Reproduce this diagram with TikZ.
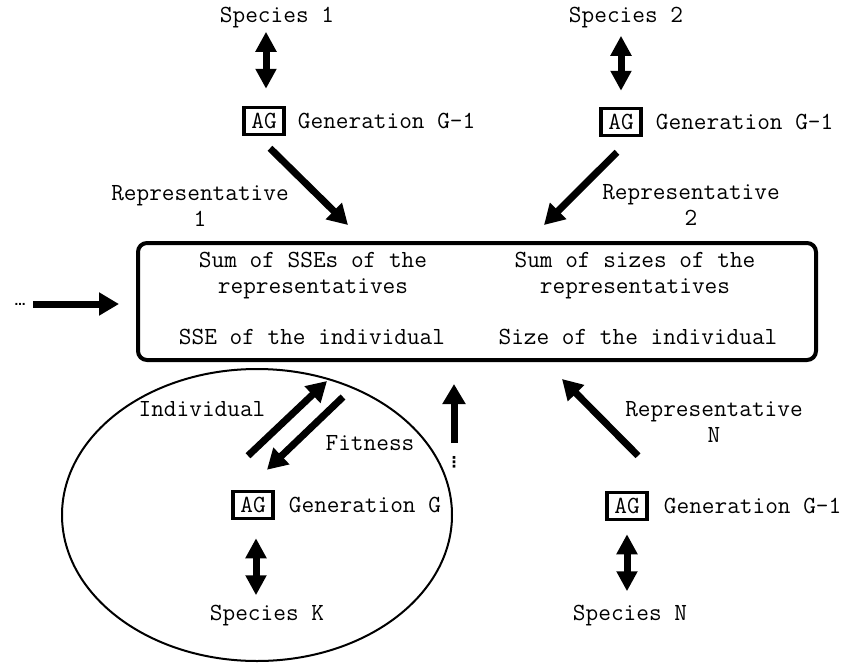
\documentclass[tikz,border=0pt]{standalone}
\usepackage{fontspec}
\newfontfamily\dotsfont{DejaVu Sans}
\usetikzlibrary{arrows.meta,positioning}

\begin{document}
\begin{tikzpicture}[x=1pt,y=-1pt,
        every node/.style={font=\ttfamily\fontsize{24.6}{26}\selectfont,inner sep=0pt},
        agbox/.style={draw,line width=3.5pt,minimum width=40pt,minimum height=27pt},
        arr/.style={line width=7pt,-{Triangle[width=22pt,length=20pt]}},
        dbl/.style={line width=7pt,{Triangle[width=20pt,length=20pt]}-{Triangle[width=20pt,length=20pt]}},
        lbl/.style={align=center},
        dotsmark/.style={font=\dotsfont\bfseries\fontsize{11}{11}\selectfont}]
                \useasboundingbox (0,0) rectangle (847,665);

                \node[draw,line width=4pt,rounded corners=9pt,minimum width=678pt,minimum height=117pt] (sum) at (477,301.5) {};
                \node[lbl] (ssesum) at (313,276) {Sum of SSEs of the\\representatives};
                \node[lbl] (sizesum) at (635,276) {Sum of sizes of the\\representatives};
                \node (sseind) at (312,337) {SSE of the individual};
                \node (sizeind) at (638,337) {Size of the individual};

                \draw[line width=2pt] (257,515) ellipse [x radius=195pt,y radius=146pt];

                \node (sp1) at (277,18) {Species 1};
                \node[agbox] (ag1) at (264,121) {AG};
                \node[right=12pt of ag1] (gen1) {Generation G-1};
                \node[lbl] (rep1) at (200,206) {Representative\\1};
                \draw[dbl] ([xshift=2pt,yshift=17pt]ag1.north) -- ([xshift=2pt,yshift=74pt]ag1.north);

                \node (sp2) at (626,18) {Species 2};
                \node[agbox] (ag2) at (621,122) {AG};
                \node[right=13pt of ag2] (gen2) {Generation G-1};
                \node[lbl] (rep2) at (691,205) {Representative\\2};
                \draw[dbl] ([yshift=16pt]ag2.north) -- ([yshift=71pt]ag2.north);

                \node[agbox] (agK) at (253,505) {AG};
                \node[right=14pt of agK] (genK) {Generation G};
                \node (spK) at (267,616) {Species K};
                \node (ind) at (202,409) {Individual};
                \node (fit) at (370,443) {Fitness};
                \draw[dbl] ([xshift=3pt,yshift=-18pt]agK.south) -- ([xshift=3pt,yshift=-75pt]agK.south);

                \node[agbox] (agN) at (627,506) {AG};
                \node[right=15pt of agN] (genN) {Generation G-1};
                \node (spN) at (630,616) {Species N};
                \node[lbl] (repN) at (714,422) {Representative\\N};
                \draw[dbl] ([yshift=-13pt]agN.south) -- ([yshift=-70pt]agN.south);

                \coordinate (in1) at (348,225);
                \coordinate (in2) at (544,225);
                \coordinate (inN) at (562,379);
                \coordinate (indtip) at (327,381);
                \coordinate (fitstart) at (343,397);
                \draw[arr] ([xshift=6pt,yshift=-12pt]ag1.south) -- (in1);
                \draw[arr] ([xshift=-4pt,yshift=-15pt]ag2.south) -- (in2);
                \draw[arr] ([xshift=11pt,yshift=35pt]agN.north) -- (inN);
                \draw[arr] ([xshift=-5pt,yshift=34pt]agK.north) -- (indtip);
                \draw[arr] (fitstart) -- ([xshift=14pt,yshift=20pt]agK.north);

                \node[dotsmark] (more) at (20,304) {…};
                \draw[arr,shorten <=13pt,shorten >=17pt] (more.center) -- (more.center -| sum.west);

                \node[dotsmark,font=\dotsfont\bfseries\fontsize{15}{15}\selectfont] (vd) at (454,462) {⋮};
                \draw[arr,shorten >=22pt] ([yshift=19pt]vd.center) -- (vd.center |- sum.south);
            \end{tikzpicture}
\end{document}
